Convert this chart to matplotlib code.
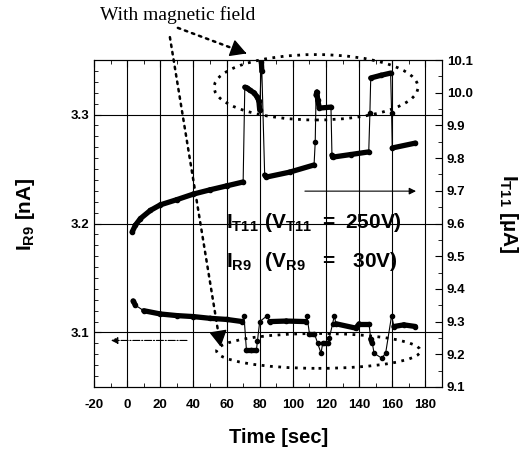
import numpy as np
import matplotlib.pyplot as plt
from matplotlib.patches import Ellipse

plt.rcParams['font.family'] = 'Liberation Sans'
plt.rcParams['mathtext.fontset'] = 'custom'
plt.rcParams['mathtext.rm'] = 'Liberation Sans'
plt.rcParams['mathtext.bf'] = 'Liberation Sans:bold'
plt.rcParams['axes.unicode_minus'] = False

# I_T11 (axe de droite, µA)
t11_time = [3, 5, 8, 14, 20, 30, 40, 50, 60, 70,
            71, 72.5, 74, 76.5, 78.5, 79.5, 80, 81, 81.3, 83,
            84, 98, 112.8, 113.5, 114, 114.5, 115, 116, 123, 123.6,
            124, 135, 145.8, 146.5, 147, 153, 159, 159.6, 160, 174]
t11_val = [9.574, 9.595, 9.615, 9.640, 9.657, 9.673, 9.690, 9.703, 9.715, 9.727,
           10.017, 10.014, 10.008, 10.000, 9.987, 9.975, 9.947, 10.094, 10.065, 9.748,
           9.742, 9.757, 9.779, 9.849, 9.993, 10.002, 9.978, 9.953, 9.956, 9.809,
           9.803, 9.811, 9.819, 9.938, 10.045, 10.053, 10.060, 9.938, 9.831, 9.846]

# I_R9 (axe de gauche, nA)
r9_time = [3.6, 5, 10, 20, 30, 40, 50, 60, 69.6, 70.5,
           72, 75, 78, 78.6, 80, 84.6, 86, 96, 108, 108.5,
           110, 113, 115, 117, 118, 121, 122, 124, 125, 126,
           138, 140, 146, 147, 148, 149, 153.6, 156, 159.6, 161,
           167, 174]
r9_val = [3.129, 3.125, 3.120, 3.117, 3.1155, 3.1146, 3.113, 3.112, 3.110, 3.1155,
          3.0836, 3.0836, 3.0836, 3.0918, 3.110, 3.1155, 3.110, 3.1105, 3.110, 3.1155,
          3.099, 3.099, 3.090, 3.081, 3.090, 3.090, 3.095, 3.108, 3.1155, 3.108,
          3.104, 3.108, 3.108, 3.094, 3.090, 3.081, 3.0765, 3.081, 3.1155, 3.1055,
          3.107, 3.1055]

x_ticks = np.arange(-20, 181, 20)
left_ticks = [3.1, 3.2, 3.3]
right_ticks = np.round(np.arange(9.1, 10.11, 0.1), 1)


def trace(axe, t, v, seuil):
    t = np.array(t)
    v = np.array(v)
    axe.plot(t, v, color='k', lw=0.8)
    axe.plot(t, v, 'o', color='k', ms=3)
    # paliers en trait épais, sauts en trait fin
    for i in np.where(np.abs(np.diff(v)) < seuil)[0]:
        axe.plot(t[i:i + 2], v[i:i + 2], color='k', lw=3.8, solid_capstyle='round')


def fleche_pointillee(axe, debut, fin):
    # trait pointillé puis pointe pleine
    axe.annotate('', xy=fin, xytext=debut, annotation_clip=False,
                 arrowprops=dict(arrowstyle='-', color='k', lw=1.8, ls=(0, (1, 2)),
                                 shrinkA=0, shrinkB=0))
    dx = fin[0] - debut[0]
    dy = fin[1] - debut[1]
    axe.annotate('', xy=fin, xytext=(fin[0] - 0.02 * dx, fin[1] - 0.02 * dy), annotation_clip=False,
                 arrowprops=dict(arrowstyle='-|>,head_length=0.9,head_width=0.5', color='k', lw=1,
                                 mutation_scale=11, shrinkA=0, shrinkB=0))


fig = plt.figure(figsize=(5.29, 4.54), dpi=100)
ax = fig.add_axes([0.1777, 0.1476, 0.6578, 0.7202])
ax.set_xlim(-20, 190)
ax.set_ylim(3.05, 3.35)
ax2 = ax.twinx()
ax2.set_ylim(9.1, 10.1)

# Grille
for x in x_ticks[1:]:
    ax.axvline(x, color='k', lw=0.8, zorder=0)
for y in left_ticks:
    ax.axhline(y, color='k', lw=0.8, zorder=0)

trace(ax, r9_time, r9_val, 0.0045)
trace(ax2, t11_time, t11_val, 0.035)

# Axes
ax.set_xticks(x_ticks)
ax.set_xticks(np.arange(-10, 190, 20), minor=True)
ax.set_yticks(left_ticks)
ax.set_yticks(np.arange(3.06, 3.35, 0.01), minor=True)
ax2.set_yticks(right_ticks)
ax2.set_yticks(np.arange(9.15, 10.1, 0.1), minor=True)
ax.tick_params(which='both', direction='in', top=True, right=False, labelsize=9.5)
ax.tick_params(axis='x', pad=9)
ax.tick_params(which='major', length=5)
ax.tick_params(which='minor', length=3)
ax2.tick_params(which='both', direction='in', labelsize=9.5)
ax2.tick_params(which='major', length=5)
ax2.tick_params(which='minor', length=3)
for lab in ax.get_xticklabels() + ax.get_yticklabels() + ax2.get_yticklabels():
    lab.set_fontweight('bold')
ax.set_yticklabels(['3.1', '3.2', '3.3'])

ax.set_xlabel('Time [sec]', fontsize=14.5, fontweight='bold')
ax.xaxis.set_label_coords(0.53, -0.125)
ax.set_ylabel(r'$\mathbf{I_{R9}}$ [nA]', fontsize=15, fontweight='bold')
ax.yaxis.set_label_coords(-0.165, 0.53)
ax2.set_ylabel(r'$\mathbf{I_{T11}}$ [µA]', fontsize=15, fontweight='bold', rotation=270, va='center')
ax2.yaxis.set_label_coords(1.19, 0.53)

# Ellipses "With magnetic field"
ax.add_patch(Ellipse((114, 3.325), 123, 0.060, fill=False, ls=(0, (1, 2)), lw=2, color='k', clip_on=False))
ax.add_patch(Ellipse((115.5, 3.0831), 123, 0.032, fill=False, ls=(0, (1, 2)), lw=2, color='k'))

# Flèches des axes
ax.annotate('', xy=(176, 3.2297), xytext=(105.6, 3.2297),
            arrowprops=dict(arrowstyle='-|>', color='k', lw=0.8, mutation_scale=10))
ax.annotate('', xy=(-11.4, 3.0927), xytext=(37.8, 3.0927),
            arrowprops=dict(arrowstyle='-|>', color='k', lw=0.8, ls='-.', mutation_scale=10))

# Flèches pointillées vers les ellipses
fleche_pointillee(ax, (30.6, 3.3795), (72, 3.356))
fleche_pointillee(ax, (25.8, 3.371), (56.4, 3.087))

fig.text(100 / 529, 1 - 15 / 454, 'With magnetic field', family='Liberation Serif',
         fontsize=14, va='center', ha='left')

ax.text(59.4, 3.2005, r'$\mathbf{I_{T11}\ (V_{T11}\ =\ 250V)}$', fontsize=15, va='center')
ax.text(59.4, 3.165, r'$\mathbf{I_{R9}\ \ (V_{R9}\ \ =\ \ 30V)}$', fontsize=15, va='center')

fig.savefig('out.png', dpi=100)
